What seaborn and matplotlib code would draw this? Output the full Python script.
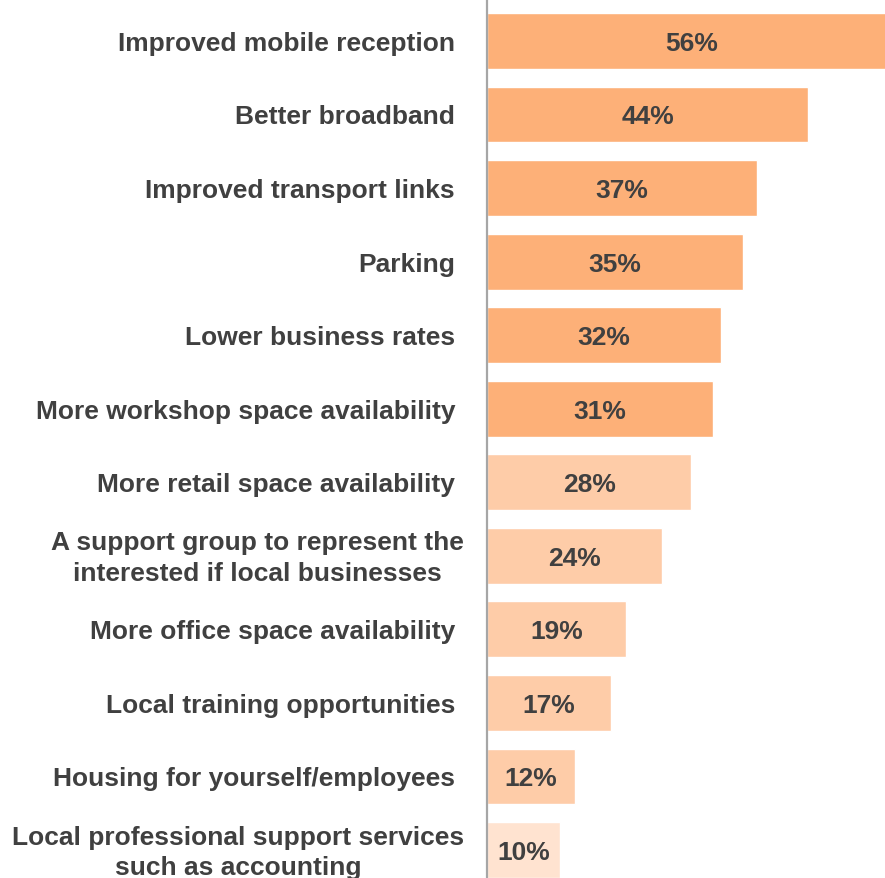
import matplotlib
matplotlib.use("Agg")
import matplotlib.pyplot as plt
import matplotlib.transforms as mtransforms
import seaborn as sns
import pandas as pd

categories = [
    "Improved mobile reception",
    "Better broadband",
    "Improved transport links",
    "Parking",
    "Lower business rates",
    "More workshop space availability",
    "More retail space availability",
    "A support group to represent the\ninterested if local businesses",
    "More office space availability",
    "Local training opportunities",
    "Housing for yourself/employees",
    "Local professional support services\nsuch as accounting",
]
values = [56, 44, 37, 35, 32, 31, 28, 24, 19, 17, 12, 10]
value_labels = ["56%", "44%", "37%", "35%", "32%", "31%", "28%", "24%", "19%", "17%", "12%", "10%"]
bar_colors = ["#FDB078"] * 6 + ["#FECCA8"] * 5 + ["#FFE3D0"]

sns.set_theme(style="white")
plt.rcParams["font.family"] = ["Liberation Sans", "DejaVu Sans"]

df = pd.DataFrame({"category": categories, "value": values})

fig = plt.figure(figsize=(8.85, 8.79), dpi=100)
ax = fig.add_axes([0.5503, 0.0, 0.4497, 1.0])

sns.barplot(data=df, x="value", y="category", hue="category",
            palette=dict(zip(categories, bar_colors)), legend=False,
            width=0.76, ax=ax, orient="h", saturation=1)

text_color = "#404040"
val_tr = mtransforms.offset_copy(ax.transData, fig=fig, x=0, y=-2, units="dots")
for i, (v, lab) in enumerate(zip(values, value_labels)):
    ax.text(v / 2, i, lab, transform=val_tr, ha="center", va="center",
            fontsize=19, fontweight="bold", color=text_color)

ax.set_xlim(0, 54.5)
ax.set_ylim(11.38, -0.57)
ax.set_xlabel("")
ax.set_ylabel("")
ax.set_xticks([])
ax.set_yticks(range(len(categories)))
ax.set_yticklabels([])
ax.tick_params(axis="y", length=0)

base = mtransforms.blended_transform_factory(ax.transAxes, ax.transData)
for i, cat in enumerate(categories):
    multi = "\n" in cat
    off = -23 if multi else -32
    tr = mtransforms.offset_copy(base, fig=fig, x=off, y=-2, units="dots")
    ax.text(0, i, cat, transform=tr, ha="right", va="center",
            multialignment="center", fontsize=19, fontweight="bold",
            color=text_color, linespacing=1.35)

for s in ["top", "right", "bottom"]:
    ax.spines[s].set_visible(False)
ax.spines["left"].set_color("#A6A6A6")
ax.spines["left"].set_linewidth(1.6)

fig.savefig("out.png", dpi=100)
